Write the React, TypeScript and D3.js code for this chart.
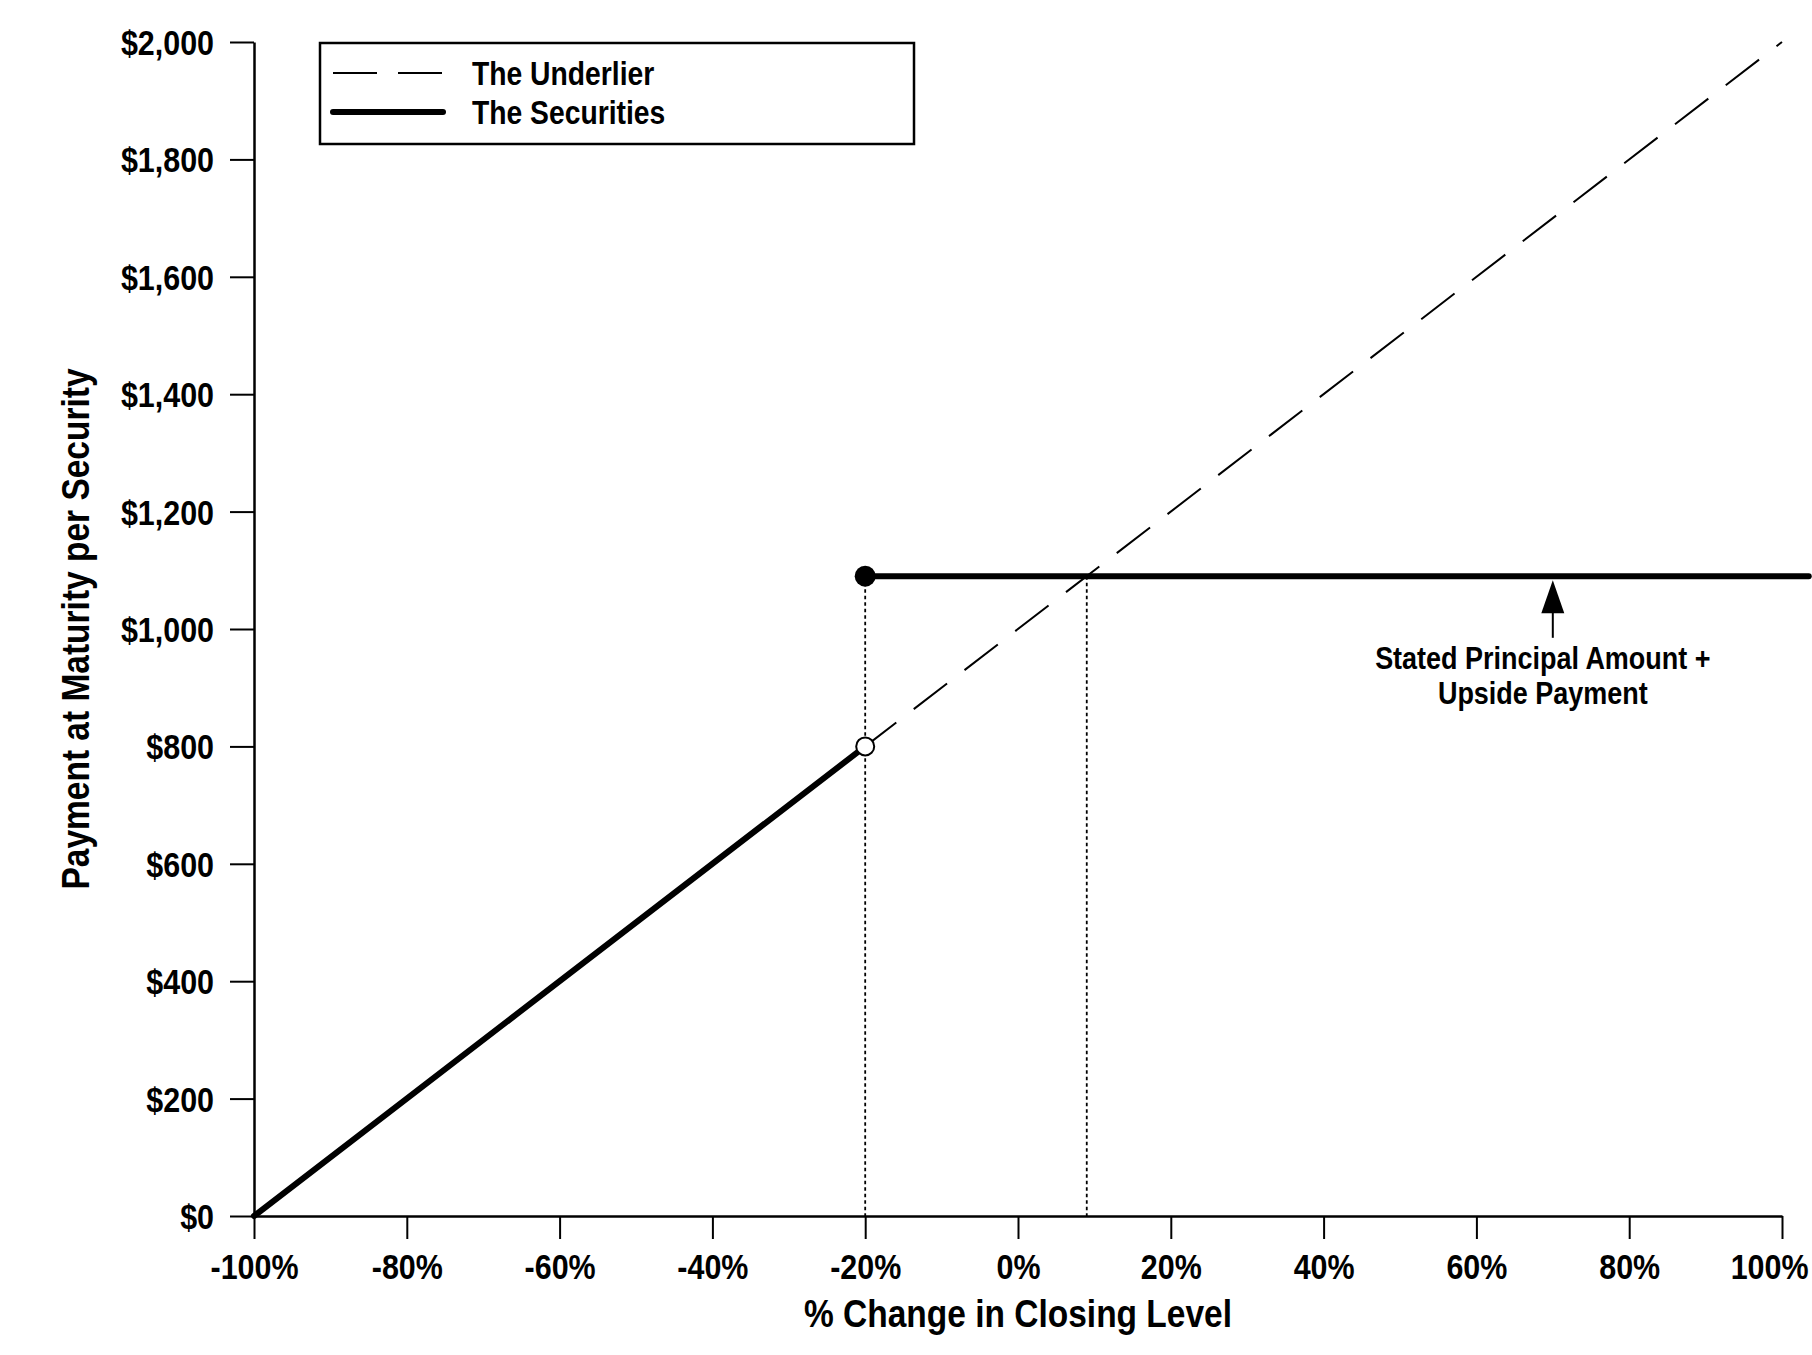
import React, { useEffect, useRef } from "react";
import * as d3 from "d3";

interface Pt {
  pct: number;
  pay: number;
}

const xTicks = [-100, -80, -60, -40, -20, 0, 20, 40, 60, 80, 100];
const yTicks = [0, 200, 400, 600, 800, 1000, 1200, 1400, 1600, 1800, 2000];

const underlier: Pt[] = [
  { pct: -100, pay: 0 },
  { pct: 100, pay: 2000 },
];
const securitiesLow: Pt[] = [
  { pct: -100, pay: 0 },
  { pct: -20, pay: 800 },
];
const securitiesHigh: Pt[] = [
  { pct: -20, pay: 1090 },
  { pct: 103.5, pay: 1090 },
];
const dropLines: Pt[] = [
  { pct: -20, pay: 1090 },
  { pct: 9, pay: 1090 },
];
const arrowPt = { pct: 70, from: 985, to: 1083 };
const noteLines = ["Stated Principal Amount +", "Upside Payment"];
const legendItems = [
  { label: "The Underlier", dash: "44,21", width: 2 },
  { label: "The Securities", dash: "", width: 6 },
];

const W = 1812;
const H = 1355;
const FONT = "'Liberation Sans', Arial, Helvetica, sans-serif";
const SQ = 0.87; // horizontal squeeze of the lettering

const App: React.FC = () => {
  const svgRef = useRef<SVGSVGElement>(null);

  useEffect(() => {
    const svg = d3.select(svgRef.current);
    svg.selectAll("*").remove();

    const x = d3.scaleLinear().domain([-100, 100]).range([254, 1782]);
    const y = d3.scaleLinear().domain([0, 2000]).range([1216, 42]);

    const squeezed = (
      g: d3.Selection<any, any, any, any>,
      tx: number,
      ty: number,
      txt: string,
      size: number,
      anchor = "start",
      rotate = 0
    ) =>
      g
        .append("text")
        .attr(
          "transform",
          `translate(${tx},${ty}) rotate(${rotate}) scale(${SQ},1)`
        )
        .attr("text-anchor", anchor)
        .attr("font-family", FONT)
        .attr("font-weight", "bold")
        .attr("font-size", size)
        .attr("fill", "#000")
        .text(txt);

    // axes
    const xAxis = d3
      .axisBottom(x)
      .tickValues(xTicks)
      .tickSize(23)
      .tickSizeOuter(0)
      .tickFormat((d) => `${d}%`);
    const gx = svg
      .append("g")
      .attr("transform", `translate(0,${y(0)})`)
      .call(xAxis);
    gx.select(".domain").attr("stroke", "#000").attr("stroke-width", 2.5);
    gx.selectAll(".tick line").attr("stroke", "#000").attr("stroke-width", 2);
    gx.selectAll(".tick text")
      .attr("y", 63)
      .attr("dy", 0)
      .attr("transform", `scale(${SQ},1)`)
      .attr("font-family", FONT)
      .attr("font-weight", "bold")
      .attr("font-size", 35)
      .attr("fill", "#000");
    // last label is pulled in so it stays on the page
    gx.selectAll<SVGTextElement, number>(".tick text")
      .filter((d) => d === 100)
      .attr("text-anchor", "end")
      .attr("x", (W - 4 - x(100)) / SQ);

    const yAxis = d3
      .axisLeft(y)
      .tickValues(yTicks)
      .tickSize(24)
      .tickSizeOuter(0)
      .tickFormat((d) => d3.format("$,")(d as number));
    const gy = svg
      .append("g")
      .attr("transform", `translate(${x(-100)},0)`)
      .call(yAxis);
    gy.select(".domain").attr("stroke", "#000").attr("stroke-width", 2.5);
    gy.selectAll(".tick line").attr("stroke", "#000").attr("stroke-width", 2);
    gy.selectAll(".tick text")
      .attr("x", -40 / SQ)
      .attr("dy", 0)
      .attr("y", 12.5)
      .attr("transform", `scale(${SQ},1)`)
      .attr("font-family", FONT)
      .attr("font-weight", "bold")
      .attr("font-size", 35)
      .attr("fill", "#000");

    squeezed(svg, (x(-100) + x(100)) / 2, 1327, "% Change in Closing Level", 38.5, "middle");
    squeezed(svg, 89, (y(0) + y(2000)) / 2, "Payment at Maturity per Security", 38.5, "middle", -90);

    const line = d3
      .line<Pt>()
      .x((d) => x(d.pct))
      .y((d) => y(d.pay));

    // dotted drop lines
    svg
      .selectAll(".drop")
      .data(dropLines)
      .enter()
      .append("line")
      .attr("x1", (d) => x(d.pct))
      .attr("x2", (d) => x(d.pct))
      .attr("y1", (d) => y(d.pay))
      .attr("y2", y(0))
      .attr("stroke", "#000")
      .attr("stroke-width", 1.8)
      .attr("stroke-dasharray", "3.5,3");

    // underlier
    svg
      .append("path")
      .datum(underlier)
      .attr("d", line)
      .attr("fill", "none")
      .attr("stroke", "#000")
      .attr("stroke-width", 2)
      .attr("stroke-dasharray", "42,22");

    // securities
    [securitiesLow, securitiesHigh].forEach((seg) => {
      svg
        .append("path")
        .datum(seg)
        .attr("d", line)
        .attr("fill", "none")
        .attr("stroke", "#000")
        .attr("stroke-width", 6)
        .attr("stroke-linecap", "round");
    });

    svg
      .append("circle")
      .attr("cx", x(securitiesLow[1].pct))
      .attr("cy", y(securitiesLow[1].pay))
      .attr("r", 9)
      .attr("fill", "#fff")
      .attr("stroke", "#000")
      .attr("stroke-width", 2);

    svg
      .append("circle")
      .attr("cx", x(securitiesHigh[0].pct))
      .attr("cy", y(securitiesHigh[0].pay))
      .attr("r", 10.5)
      .attr("fill", "#000");

    // annotation arrow
    const ax = x(arrowPt.pct);
    const tipY = y(arrowPt.to);
    svg
      .append("line")
      .attr("x1", ax)
      .attr("x2", ax)
      .attr("y1", y(arrowPt.from))
      .attr("y2", tipY + 20)
      .attr("stroke", "#000")
      .attr("stroke-width", 2);
    svg
      .append("path")
      .attr("d", `M${ax},${tipY} L${ax - 11.5},${tipY + 33} L${ax + 11.5},${tipY + 33} Z`)
      .attr("fill", "#000");

    noteLines.forEach((t, i) => {
      squeezed(svg, ax - 10, 669 + i * 35, t, 31, "middle");
    });

    // legend
    const lg = svg.append("g");
    lg.append("rect")
      .attr("x", 320)
      .attr("y", 43)
      .attr("width", 594)
      .attr("height", 101)
      .attr("fill", "#fff")
      .attr("stroke", "#000")
      .attr("stroke-width", 2.5);
    legendItems.forEach((it, i) => {
      const ly = 73 + i * 39;
      lg.append("line")
        .attr("x1", 333)
        .attr("x2", 443)
        .attr("y1", ly)
        .attr("y2", ly)
        .attr("stroke", "#000")
        .attr("stroke-width", it.width)
        .attr("stroke-linecap", it.dash ? "butt" : "round")
        .attr("stroke-dasharray", it.dash || null);
      squeezed(lg, 472, ly + 12, it.label, 32.5);
    });
  }, []);

  return (
    <svg
      ref={svgRef}
      width={W}
      height={H}
      viewBox={`0 0 ${W} ${H}`}
      style={{ position: "absolute", left: 0, top: 0, background: "#fff" }}
    />
  );
};

export default App;
